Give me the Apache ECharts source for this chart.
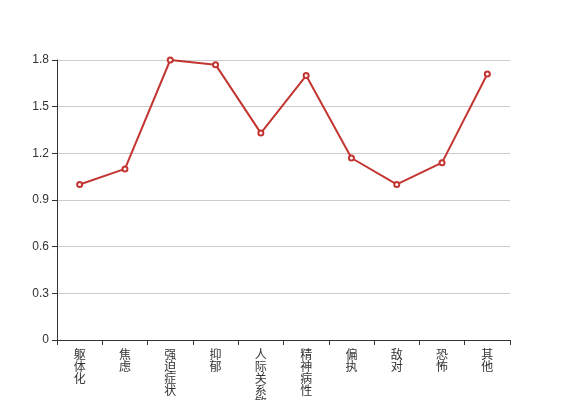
<!DOCTYPE html>
<html>
<head>
<meta charset="utf-8">
<script src="https://cdn.jsdelivr.net/npm/echarts@6/dist/echarts.min.js"></script>
<style>
  html, body { margin: 0; padding: 0; background: #fff; }
  #main { width: 567px; height: 400px; }
</style>
</head>
<body>
<div id="main"></div>
<script>
var categories = ['躯体化', '焦虑', '强迫症状', '抑郁', '人际关系敏感', '精神病性', '偏执', '敌对', '恐怖', '其他'];
var values = [1.0, 1.1, 1.8, 1.77, 1.33, 1.7, 1.17, 1.0, 1.14, 1.71];

var chart = echarts.init(document.getElementById('main'));
var option = {
  animation: false,
  grid: { left: 57, right: 57, top: 60, bottom: 60, containLabel: false, outerBoundsMode: 'none' },
  xAxis: {
    type: 'category',
    data: categories,
    boundaryGap: true,
    axisLine: { lineStyle: { color: '#333' } },
    axisTick: { show: true, interval: 0, lineStyle: { color: '#333' } },
    axisLabel: {
      color: '#333',
      fontSize: 12,
      lineHeight: 12,
      interval: 0,
      margin: 8,
      fontFamily: 'Noto Sans CJK SC',
      formatter: function (v) { return v.split('').join('\n'); }
    }
  },
  yAxis: {
    type: 'value',
    min: 0,
    max: 1.8,
    interval: 0.3,
    axisLine: { show: true, lineStyle: { color: '#333' } },
    axisTick: { show: true, lineStyle: { color: '#333' } },
    axisLabel: { color: '#333', fontSize: 12 },
    splitLine: { lineStyle: { color: '#ccc' } }
  },
  series: [{
    type: 'line',
    data: values,
    symbol: 'emptyCircle',
    symbolSize: 5,
    itemStyle: { color: '#c23531', borderWidth: 1 },
    lineStyle: { color: '#c23531', width: 2 }
  }]
};
chart.setOption(option);
window.addEventListener('resize', function () { chart.resize(); });
</script>
</body>
</html>
